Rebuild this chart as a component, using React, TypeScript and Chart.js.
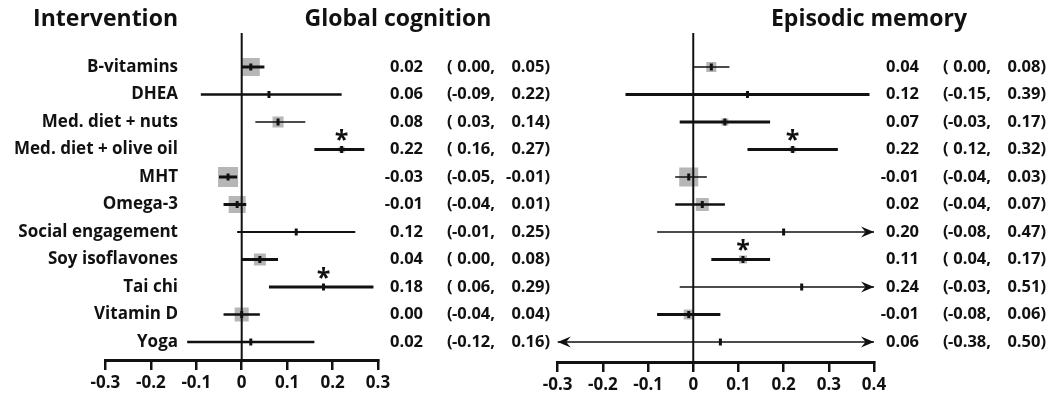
import React, { useEffect, useRef } from "react";
import { Chart, registerables } from "chart.js";

Chart.register(...registerables);

// ---------------- data ----------------
const interventions = [
  "B-vitamins",
  "DHEA",
  "Med. diet + nuts",
  "Med. diet + olive oil",
  "MHT",
  "Omega-3",
  "Social engagement",
  "Soy isoflavones",
  "Tai chi",
  "Vitamin D",
  "Yoga",
];

// Global cognition
const gcEst = [0.02, 0.06, 0.08, 0.22, -0.03, -0.01, 0.12, 0.04, 0.18, 0.0, 0.02];
const gcLo = [0.0, -0.09, 0.03, 0.16, -0.05, -0.04, -0.01, 0.0, 0.06, -0.04, -0.12];
const gcHi = [0.05, 0.22, 0.14, 0.27, -0.01, 0.01, 0.25, 0.08, 0.29, 0.04, 0.16];
const gcWeight = [18, 1, 11, 6, 20, 17, 1, 12, 1, 14, 2];
const gcSig = [false, false, false, true, false, false, false, false, true, false, false];

// Episodic memory
const emEst = [0.04, 0.12, 0.07, 0.22, -0.01, 0.02, 0.2, 0.11, 0.24, -0.01, 0.06];
const emLo = [0.0, -0.15, -0.03, 0.12, -0.04, -0.04, -0.08, 0.04, -0.03, -0.08, -0.38];
const emHi = [0.08, 0.39, 0.17, 0.32, 0.03, 0.07, 0.47, 0.17, 0.51, 0.06, 0.5];
const emWeight = [10, 2, 7, 6, 19, 13, 1, 8, 1, 10, 1];
const emSig = [false, false, false, true, false, false, false, true, false, false, false];

const gcTicks = [-0.3, -0.2, -0.1, 0, 0.1, 0.2, 0.3];
const emTicks = [-0.3, -0.2, -0.1, 0, 0.1, 0.2, 0.3, 0.4];

const headerLabel = "Intervention";
const gcTitle = "Global cognition";
const emTitle = "Episodic memory";

// ---------------- styles ----------------
const FONT = '"Open Sans", "DejaVu Sans", sans-serif';
const INK = "#111111";
const GREY = "#b6b6b6";
const gcStroke = [3, 2.5, 1.6, 3, 3, 3, 2, 3, 3, 2.5, 2.5];
const emStroke = [1.5, 3, 3, 3, 1.6, 2.5, 1.5, 3, 1.5, 3, 1.5];
const LABEL_FONT = { family: FONT, size: 17, weight: "bold" as const };
const TICK_FONT = { family: FONT, size: 17, weight: "bold" as const };
const NUM_FONT = `bold 16.5px ${FONT}`;
const TITLE_FONT = `bold 23px ${FONT}`;
const Y_MIN = -1.236;

const fmt = (v: number) => v.toFixed(2);

function measureWidest(font: string, texts: string[]) {
  const c = document.createElement("canvas").getContext("2d")!;
  c.font = font;
  return Math.max(...texts.map((t) => c.measureText(t).width));
}

type Panel = {
  est: number[];
  lo: number[];
  hi: number[];
  weight: number[];
  sig: boolean[];
  stroke: number[];
  ticks: number[];
  xMin: number;
  xMax: number;
  yMax: number;
  axisH: number;
  canvasLeft: number;
  padLeft: number;
  padRight: number;
  showLabels: boolean;
  titles: { text: string; x: number; align: CanvasTextAlign }[];
};

function drawArrow(ctx: CanvasRenderingContext2D, x: number, y: number, dir: number) {
  ctx.beginPath();
  ctx.moveTo(x, y);
  ctx.lineTo(x - dir * 13, y - 5.5);
  ctx.lineTo(x - dir * 8.5, y);
  ctx.lineTo(x - dir * 13, y + 5.5);
  ctx.closePath();
  ctx.fill();
}

function makeConfig(p: Panel): any {
  const rows = interventions.map((_, i) => i);
  const datasets: any[] = [];
  // zero reference line
  datasets.push({
    data: [
      { x: 0, y: Y_MIN },
      { x: 0, y: p.yMax },
    ],
    showLine: true,
    borderColor: INK,
    borderWidth: 2,
    pointRadius: 0,
    order: 2,
  });
  // confidence intervals
  rows.forEach((i) => {
    datasets.push({
      data: [
        { x: p.lo[i], y: i },
        { x: p.hi[i], y: i },
      ],
      showLine: true,
      borderColor: INK,
      borderWidth: p.stroke[i],
      borderCapStyle: "butt",
      pointRadius: 0,
      order: 1,
    });
  });
  // weight squares
  datasets.push({
    data: rows.map((i) => ({ x: p.est[i], y: i })),
    pointStyle: "rect",
    pointRadius: p.weight.map((w) => w / Math.SQRT2),
    backgroundColor: GREY,
    borderWidth: 0,
    order: 3,
  });
  // point estimates
  datasets.push({
    data: rows.map((i) => ({ x: p.est[i], y: i })),
    pointStyle: "line",
    pointRotation: 90,
    pointRadius: 3.5,
    borderWidth: 3,
    borderColor: INK,
    order: 0,
  });

  const labelFontStr = `${LABEL_FONT.weight} ${LABEL_FONT.size}px ${LABEL_FONT.family}`;
  const widest = measureWidest(labelFontStr, interventions);

  const textPlugin = {
    id: "forestText",
    afterDraw(chart: any) {
      const { ctx, chartArea, scales } = chart;
      const xs = scales.x;
      const ys = scales.y;
      ctx.save();
      // x axis line
      ctx.strokeStyle = INK;
      ctx.lineWidth = 3;
      ctx.beginPath();
      const ay = chartArea.bottom + 1.5;
      ctx.moveTo(xs.getPixelForValue(p.ticks[0]) - 1.25, ay);
      ctx.lineTo(xs.getPixelForValue(p.ticks[p.ticks.length - 1]) + 1.25, ay);
      ctx.stroke();
      // arrows for intervals beyond axis
      ctx.fillStyle = INK;
      rows.forEach((i) => {
        const y = ys.getPixelForValue(i);
        if (p.hi[i] > xs.max) drawArrow(ctx, xs.getPixelForValue(xs.max), y, 1);
        if (p.lo[i] < xs.min) drawArrow(ctx, xs.getPixelForValue(xs.min), y, -1);
      });
      // significance stars
      ctx.font = `bold 25px ${FONT}`;
      ctx.textAlign = "center";
      ctx.textBaseline = "alphabetic";
      rows.forEach((i) => {
        if (p.sig[i]) ctx.fillText("*", xs.getPixelForValue(p.est[i]), ys.getPixelForValue(i) - 1);
      });
      // numeric columns
      ctx.font = NUM_FONT;
      ctx.textBaseline = "middle";
      const R = chartArea.right;
      rows.forEach((i) => {
        const y = ys.getPixelForValue(i);
        ctx.textAlign = "right";
        ctx.fillText(fmt(p.est[i]), R + 45, y);
        ctx.textAlign = "left";
        ctx.fillText("(", R + 69, y);
        ctx.textAlign = "right";
        ctx.fillText(fmt(p.lo[i]) + ",", R + 117, y);
        ctx.fillText(fmt(p.hi[i]) + ")", R + 172, y);
      });
      // titles
      ctx.font = TITLE_FONT;
      ctx.textBaseline = "alphabetic";
      p.titles.forEach((t) => {
        ctx.textAlign = t.align;
        ctx.fillText(t.text, t.x - p.canvasLeft, 26);
      });
      ctx.restore();
    },
  };

  return {
    type: "scatter",
    data: { datasets },
    options: {
      animation: false,
      responsive: false,
      events: [],
      plugins: { legend: { display: false }, tooltip: { enabled: false } },
      layout: {
        autoPadding: false,
        padding: { left: p.padLeft, right: p.padRight, top: 33, bottom: 0 },
      },
      scales: {
        x: {
          type: "linear",
          min: p.xMin,
          max: p.xMax,
          afterBuildTicks: (s: any) => {
            s.ticks = p.ticks.map((v) => ({ value: v }));
          },
          afterFit: (s: any) => {
            s.height = p.axisH;
            s.paddingLeft = 0;
            s.paddingRight = 0;
            s.paddingTop = 0;
            s.paddingBottom = 0;
          },
          grid: {
            display: true,
            drawOnChartArea: false,
            drawTicks: true,
            tickLength: 11,
            lineWidth: 2.5,
            color: INK,
          },
          border: { display: false },
          ticks: {
            autoSkip: false,
            maxRotation: 0,
            padding: 3,
            color: INK,
            font: TICK_FONT,
            callback: (v: number) => (v === 0 ? "0" : Number(v).toFixed(1)),
          },
        },
        y: {
          type: "linear",
          reverse: true,
          min: Y_MIN,
          max: p.yMax,
          display: p.showLabels,
          afterBuildTicks: (s: any) => {
            s.ticks = rows.map((i) => ({ value: i }));
          },
          afterFit: (s: any) => {
            s.width = 0;
            s.paddingLeft = 0;
            s.paddingRight = 0;
            s.paddingTop = 0;
            s.paddingBottom = 0;
          },
          grid: { display: false },
          border: { display: false },
          ticks: {
            mirror: true,
            crossAlign: "far",
            padding: 178 - widest,
            color: INK,
            font: LABEL_FONT,
            autoSkip: false,
            callback: (v: number) => interventions[v] ?? "",
          },
        },
      },
    },
    plugins: [textPlugin],
  };
}

const A_LEFT = 0;
const A_WIDTH = 553;
const B_LEFT = 520;
const B_WIDTH = 531;
const H = 398;

export default function App() {
  const refA = useRef<HTMLCanvasElement>(null);
  const refB = useRef<HTMLCanvasElement>(null);

  useEffect(() => {
    const panelA: Panel = {
      est: gcEst,
      lo: gcLo,
      hi: gcHi,
      weight: gcWeight,
      sig: gcSig,
      stroke: gcStroke,
      ticks: gcTicks,
      xMin: -0.532,
      xMax: 0.3,
      yMax: 10.618,
      axisH: H - 359,
      canvasLeft: A_LEFT,
      padLeft: 0,
      padRight: A_WIDTH - 378,
      showLabels: true,
      titles: [
        { text: headerLabel, x: 178, align: "right" },
        { text: gcTitle, x: 398, align: "center" },
      ],
    };
    const panelB: Panel = {
      est: emEst,
      lo: emLo,
      hi: emHi,
      weight: emWeight,
      sig: emSig,
      stroke: emStroke,
      ticks: emTicks,
      xMin: -0.3,
      xMax: 0.4,
      yMax: 10.691,
      axisH: H - 361,
      canvasLeft: B_LEFT,
      padLeft: 557.7 - B_LEFT,
      padRight: B_LEFT + B_WIDTH - 874,
      showLabels: false,
      titles: [{ text: emTitle, x: 869, align: "center" }],
    };
    const a = new Chart(refA.current!, makeConfig(panelA));
    const b = new Chart(refB.current!, makeConfig(panelB));
    return () => {
      a.destroy();
      b.destroy();
    };
  }, []);

  return (
    <div style={{ position: "absolute", left: 0, top: 0, width: 1051, height: H, background: "#fff" }}>
      <canvas
        ref={refA}
        width={A_WIDTH}
        height={H}
        style={{ position: "absolute", left: A_LEFT, top: 0, width: A_WIDTH, height: H }}
      />
      <canvas
        ref={refB}
        width={B_WIDTH}
        height={H}
        style={{ position: "absolute", left: B_LEFT, top: 0, width: B_WIDTH, height: H }}
      />
    </div>
  );
}
